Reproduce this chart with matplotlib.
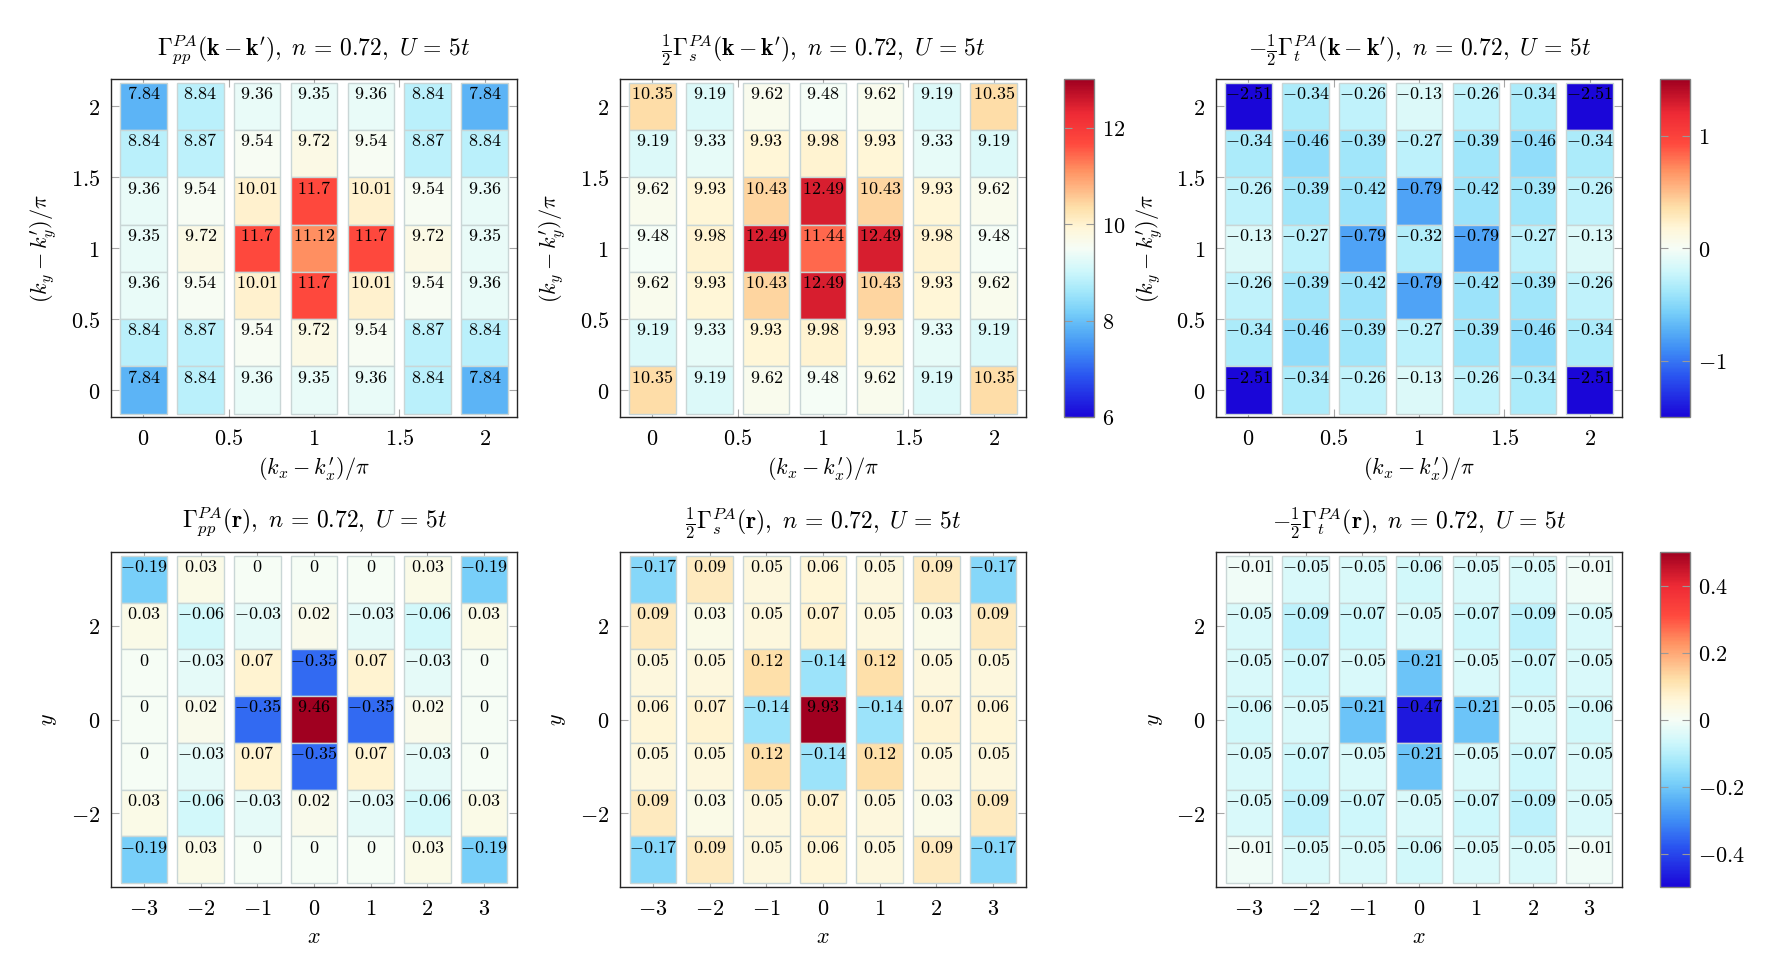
import numpy as np
import matplotlib
matplotlib.use('Agg')
import matplotlib.pyplot as plt
from matplotlib.colors import LinearSegmentedColormap, Normalize
from matplotlib.cm import ScalarMappable

plt.rcParams['mathtext.fontset'] = 'cm'
plt.rcParams['font.family'] = 'serif'
plt.rcParams['font.serif'] = ['DejaVu Serif']

# ---- data (rows listed from top row to bottom row) ----
k_ticks = [0, 0.5, 1, 1.5, 2]
r_ticks_x = [-3, -2, -1, 0, 1, 2, 3]
r_ticks_y = [-2, 0, 2]

gamma_pp_k = [
    [7.84, 8.84, 9.36, 9.35, 9.36, 8.84, 7.84],
    [8.84, 8.87, 9.54, 9.72, 9.54, 8.87, 8.84],
    [9.36, 9.54, 10.01, 11.7, 10.01, 9.54, 9.36],
    [9.35, 9.72, 11.7, 11.12, 11.7, 9.72, 9.35],
    [9.36, 9.54, 10.01, 11.7, 10.01, 9.54, 9.36],
    [8.84, 8.87, 9.54, 9.72, 9.54, 8.87, 8.84],
    [7.84, 8.84, 9.36, 9.35, 9.36, 8.84, 7.84],
]
gamma_s_k = [
    [10.35, 9.19, 9.62, 9.48, 9.62, 9.19, 10.35],
    [9.19, 9.33, 9.93, 9.98, 9.93, 9.33, 9.19],
    [9.62, 9.93, 10.43, 12.49, 10.43, 9.93, 9.62],
    [9.48, 9.98, 12.49, 11.44, 12.49, 9.98, 9.48],
    [9.62, 9.93, 10.43, 12.49, 10.43, 9.93, 9.62],
    [9.19, 9.33, 9.93, 9.98, 9.93, 9.33, 9.19],
    [10.35, 9.19, 9.62, 9.48, 9.62, 9.19, 10.35],
]
gamma_t_k = [
    [-2.51, -0.34, -0.26, -0.13, -0.26, -0.34, -2.51],
    [-0.34, -0.46, -0.39, -0.27, -0.39, -0.46, -0.34],
    [-0.26, -0.39, -0.42, -0.79, -0.42, -0.39, -0.26],
    [-0.13, -0.27, -0.79, -0.32, -0.79, -0.27, -0.13],
    [-0.26, -0.39, -0.42, -0.79, -0.42, -0.39, -0.26],
    [-0.34, -0.46, -0.39, -0.27, -0.39, -0.46, -0.34],
    [-2.51, -0.34, -0.26, -0.13, -0.26, -0.34, -2.51],
]
gamma_pp_r = [
    [-0.19, 0.03, 0, 0, 0, 0.03, -0.19],
    [0.03, -0.06, -0.03, 0.02, -0.03, -0.06, 0.03],
    [0, -0.03, 0.07, -0.35, 0.07, -0.03, 0],
    [0, 0.02, -0.35, 9.46, -0.35, 0.02, 0],
    [0, -0.03, 0.07, -0.35, 0.07, -0.03, 0],
    [0.03, -0.06, -0.03, 0.02, -0.03, -0.06, 0.03],
    [-0.19, 0.03, 0, 0, 0, 0.03, -0.19],
]
gamma_s_r = [
    [-0.17, 0.09, 0.05, 0.06, 0.05, 0.09, -0.17],
    [0.09, 0.03, 0.05, 0.07, 0.05, 0.03, 0.09],
    [0.05, 0.05, 0.12, -0.14, 0.12, 0.05, 0.05],
    [0.06, 0.07, -0.14, 9.93, -0.14, 0.07, 0.06],
    [0.05, 0.05, 0.12, -0.14, 0.12, 0.05, 0.05],
    [0.09, 0.03, 0.05, 0.07, 0.05, 0.03, 0.09],
    [-0.17, 0.09, 0.05, 0.06, 0.05, 0.09, -0.17],
]
gamma_t_r = [
    [-0.01, -0.05, -0.05, -0.06, -0.05, -0.05, -0.01],
    [-0.05, -0.09, -0.07, -0.05, -0.07, -0.09, -0.05],
    [-0.05, -0.07, -0.05, -0.21, -0.05, -0.07, -0.05],
    [-0.06, -0.05, -0.21, -0.47, -0.21, -0.05, -0.06],
    [-0.05, -0.07, -0.05, -0.21, -0.05, -0.07, -0.05],
    [-0.05, -0.09, -0.07, -0.05, -0.07, -0.09, -0.05],
    [-0.01, -0.05, -0.05, -0.06, -0.05, -0.05, -0.01],
]

# colormap similar to the pgfplots one used in the figure
cmap = LinearSegmentedColormap.from_list('bwr_custom', [
    (0.00, '#1a06d8'),
    (0.12, '#2a55f0'),
    (0.20, '#3f8ef5'),
    (0.26, '#5ab2f6'),
    (0.31, '#78cff9'),
    (0.37, '#a2e7fa'),
    (0.43, '#cdf7fb'),
    (0.50, '#f6fdf6'),
    (0.56, '#fff6d8'),
    (0.62, '#fee0aa'),
    (0.73, '#ff9262'),
    (0.81, '#ff4a3e'),
    (0.90, '#ee2a35'),
    (1.00, '#a00020'),
])

norm_k = Normalize(6, 13)
norm_t = Normalize(-1.5, 1.5)
norm_r = Normalize(-0.5, 0.5)

tail = r',\ n\,=\,0.72,\ U\,=\,5t$'
titles = [
    r'$\Gamma^{PA}_{pp}(\mathbf{k}-\mathbf{k}^{\prime})' + tail,
    r'$\frac{1}{2}\Gamma^{PA}_{s}(\mathbf{k}-\mathbf{k}^{\prime})' + tail,
    r'$-\frac{1}{2}\Gamma^{PA}_{t}(\mathbf{k}-\mathbf{k}^{\prime})' + tail,
    r'$\Gamma^{PA}_{pp}(\mathbf{r})' + tail,
    r'$\frac{1}{2}\Gamma^{PA}_{s}(\mathbf{r})' + tail,
    r'$-\frac{1}{2}\Gamma^{PA}_{t}(\mathbf{r})' + tail,
]


def fmt(v):
    s = ('%.2f' % v).rstrip('0').rstrip('.')
    if s == '-0':
        s = '0'
    return '$' + s + '$'


def draw_panel(ax, data, coords, norm, ticks_x, ticks_y, lim, title, xl, yl):
    data = np.array(data)
    step = coords[1] - coords[0]
    w = step * 0.82
    for i, row in enumerate(data):
        yc = coords[::-1][i]
        colors = cmap(norm(row))
        ax.bar(coords, [step] * len(coords), width=w, bottom=yc - step / 2,
               color=colors, edgecolor='#c9d6d6', linewidth=1.0, zorder=2)
        for xc, v in zip(coords, row):
            ax.text(xc, yc + step * 0.26, fmt(v), ha='center', va='center',
                    fontsize=13, zorder=3)
    ax.set_xlim(lim)
    ax.set_ylim(lim)
    ax.set_xticks(ticks_x, labels=[fmt(t) for t in ticks_x])
    ax.set_yticks(ticks_y, labels=[fmt(t) for t in ticks_y])
    ax.tick_params(direction='in', top=True, right=True, color='0.65',
                   length=6, labelsize=16, pad=8)
    for sp in ax.spines.values():
        sp.set_linewidth(1.0)
        sp.set_color('0.15')
    ax.set_title(title, fontsize=17, pad=17)
    ax.set_xlabel(xl, fontsize=16, labelpad=4)
    ax.set_ylabel(yl, fontsize=16, labelpad=8)


def draw_cbar(fig, rect, norm, ticks):
    cax = fig.add_axes(rect)
    cb = fig.colorbar(ScalarMappable(norm=norm, cmap=cmap), cax=cax)
    cb.outline.set_edgecolor('0.5')
    cb.outline.set_linewidth(1.0)
    cb.set_ticks(ticks, labels=[fmt(t) for t in ticks])
    cax.tick_params(direction='in', left=True, right=True, color='0.6',
                    length=6, labelsize=16, pad=6)
    return cb


fig = plt.figure(figsize=(17.81, 9.69), dpi=100)

col_left = [0.0623, 0.3481, 0.6828]
ax_w = 0.228
top_b, top_h = 0.5697, 0.3483
bot_b, bot_h = 0.0846, 0.3457

k_coords = np.array([0, 1, 2, 3, 4, 5, 6]) / 3
r_coords = np.array([-3, -2, -1, 0, 1, 2, 3])

kx_label = r'$(k_x-k_x^{\prime})/\pi$'
ky_label = r'$(k_y-k_y^{\prime})/\pi$'

top_data = [(gamma_pp_k, norm_k), (gamma_s_k, norm_k), (gamma_t_k, norm_t)]
bot_data = [(gamma_pp_r, norm_r), (gamma_s_r, norm_r), (gamma_t_r, norm_r)]

for j in range(3):
    ax = fig.add_axes([col_left[j], top_b, ax_w, top_h])
    d, nm = top_data[j]
    draw_panel(ax, d, k_coords, nm, k_ticks, k_ticks, (-0.19, 2.19),
               titles[j], kx_label, ky_label)

for j in range(3):
    ax = fig.add_axes([col_left[j], bot_b, ax_w, bot_h])
    d, nm = bot_data[j]
    draw_panel(ax, d, r_coords, nm, r_ticks_x, r_ticks_y, (-3.58, 3.58),
               titles[3 + j], r'$x$', r'$y$')

draw_cbar(fig, [0.5974, top_b, 0.0168, top_h], norm_k, [6, 8, 10, 12])
draw_cbar(fig, [0.932, top_b, 0.0168, top_h], norm_t, [-1, 0, 1])
draw_cbar(fig, [0.932, bot_b, 0.0168, bot_h], norm_r, [-0.4, -0.2, 0, 0.2, 0.4])

fig.savefig('out.png', dpi=100)
